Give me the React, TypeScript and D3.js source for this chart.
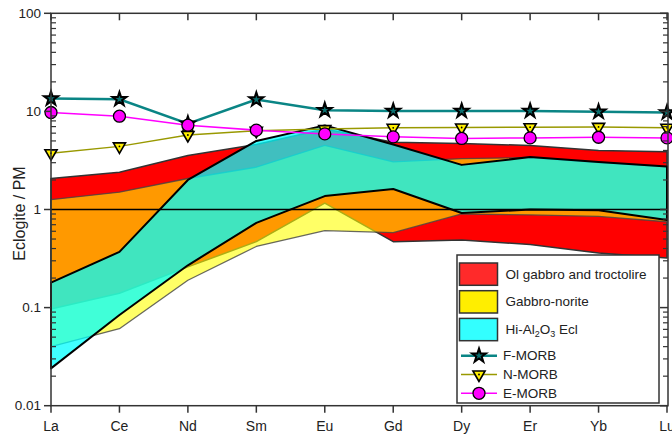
import React from 'react';
import * as d3 from 'd3';

const elements = ['La', 'Ce', 'Nd', 'Sm', 'Eu', 'Gd', 'Dy', 'Er', 'Yb', 'Lu'];

// field envelopes (max / min), normalised to primitive mantle
const olGabbroMax = [2.07, 2.4, 3.55, 4.6, 6.6, 4.85, 4.7, 4.5, 4.0, 3.87];
const olGabbroMin = [0.097, 0.14, 0.26, 0.47, 1.16, 0.47, 0.49, 0.44, 0.36, 0.32];
const gabbroNoriteMax = [1.26, 1.5, 2.07, 2.7, 4.5, 3.06, 3.3, 3.38, 3.0, 2.72];
const gabbroNoriteMin = [0.04, 0.061, 0.19, 0.42, 0.61, 0.58, 0.9, 0.88, 0.85, 0.75];
const eclMax = [0.18, 0.37, 2.0, 5.0, 7.2, 4.6, 2.85, 3.42, 3.05, 2.75];
const eclMin = [0.024, 0.084, 0.27, 0.73, 1.37, 1.62, 0.92, 1.0, 0.98, 0.78];

// reference basalts
const fMorb = [13.5, 13.3, 7.5, 13.2, 10.3, 10.1, 10.1, 10.1, 9.9, 9.75];
const nMorb = [3.75, 4.4, 5.75, 6.35, 6.6, 6.8, 6.85, 6.9, 6.95, 6.8];
const eMorb = [9.74, 8.94, 7.23, 6.44, 5.9, 5.5, 5.3, 5.37, 5.45, 5.37];

const yTickValues = [100, 10, 1, 0.1, 0.01];
const yTickLabels = ['100', '10', '1', '0.1', '0.01'];

const W = 672,
  H = 435;
const left = 51,
  right = 667,
  top = 13.3,
  bottom = 405.7;
const axisColor = '#333';
const font = "'Liberation Sans', Arial, Helvetica, sans-serif";

const x = d3.scalePoint<string>().domain(elements).range([left, right]);
const y = d3.scaleLog().domain([0.01, 100]).range([bottom, top]);

function band(maxV: number[], minV: number[]) {
  return d3
    .area<number>()
    .x((_, i) => x(elements[i]) as number)
    .y0((_, i) => y(minV[i]))
    .y1((d) => y(d))(maxV) as string;
}

function line(vals: number[]) {
  return d3
    .line<number>()
    .x((_, i) => x(elements[i]) as number)
    .y((d) => y(d))(vals) as string;
}

const starPath = d3.symbol(d3.symbolStar, 60)() as string;
const triPath = d3.symbol(d3.symbolTriangle, 64)() as string;
const circPath = d3.symbol(d3.symbolCircle, 113)() as string;

function Star({ cx, cy }: { cx: number; cy: number }) {
  return (
    <path d={starPath} transform={`translate(${cx},${cy})`} fill="#0b7070" stroke="#000" strokeWidth={2} strokeLinejoin="miter" />
  );
}
function Tri({ cx, cy }: { cx: number; cy: number }) {
  return (
    <g transform={`translate(${cx},${cy}) rotate(180)`}>
      <path d={triPath} fill="#ffee00" stroke="#000" strokeWidth={1.6} />
      <circle r={0.9} fill="#000" />
    </g>
  );
}
function Circ({ cx, cy }: { cx: number; cy: number }) {
  return <path d={circPath} transform={`translate(${cx},${cy})`} fill="#ff00ff" stroke="#000" strokeWidth={1.3} />;
}

export default function App() {
  const minorTicks = y.ticks().filter((t) => !yTickValues.some((v) => Math.abs(v - t) < 1e-9));
  const lx = 457,
    ly = 255,
    lw = 202,
    lh = 148;
  const swatches = [
    { fill: '#ff2a2a', label: 'Ol gabbro and troctolire' },
    { fill: '#ffee00', label: 'Gabbro-norite' },
    { fill: '#33ffff', label: 'ecl' },
  ];
  const lineItems = [
    { color: '#0a8585', w: 2.5, label: 'F-MORB', M: Star },
    { color: '#999900', w: 1.5, label: 'N-MORB', M: Tri },
    { color: '#ff00ff', w: 1.5, label: 'E-MORB', M: Circ },
  ];

  return (
    <svg
      width={W}
      height={H}
      viewBox={`0 0 ${W} ${H}`}
      style={{ position: 'absolute', left: 0, top: 0, background: '#fff' }}
      fontFamily={font}
    >
      {/* fields */}
      <path d={band(olGabbroMax, olGabbroMin)} fill="#ff0000" stroke="#333" strokeWidth={1.5} strokeLinejoin="round" />
      <path
        d={band(gabbroNoriteMax, gabbroNoriteMin)}
        fill="#ffff00"
        fillOpacity={0.6}
        stroke="#444"
        strokeOpacity={0.8}
        strokeWidth={1.3}
        strokeLinejoin="round"
      />
      <path
        d={band(eclMax, eclMin)}
        fill="#00ffff"
        fillOpacity={0.75}
        stroke="#000"
        strokeWidth={2}
        strokeLinejoin="round"
      />
      <line x1={left} x2={right} y1={y(1)} y2={y(1)} stroke="#000" strokeWidth={1.6} />

      {/* MORB patterns */}
      <path d={line(fMorb)} fill="none" stroke="#0a8585" strokeWidth={2.5} />
      <path d={line(nMorb)} fill="none" stroke="#999900" strokeWidth={1.5} />
      <path d={line(eMorb)} fill="none" stroke="#ff00ff" strokeWidth={1.5} />
      {elements.map((e, i) => (
        <g key={e}>
          <Star cx={x(e) as number} cy={y(fMorb[i])} />
          <Tri cx={x(e) as number} cy={y(nMorb[i])} />
          <Circ cx={x(e) as number} cy={y(eMorb[i])} />
        </g>
      ))}

      {/* frame */}
      <rect x={left} y={top} width={right + 1 - left} height={bottom - top} fill="none" stroke={axisColor} strokeWidth={1.5} />
      {yTickValues.map((v, i) => (
        <g key={v}>
          <line x1={left - 7} x2={left} y1={y(v)} y2={y(v)} stroke={axisColor} strokeWidth={1.5} />
          <line x1={right + 1} x2={right - 7} y1={y(v)} y2={y(v)} stroke={axisColor} strokeWidth={1.5} />
          <text x={left - 10} y={y(v)} dy="0.35em" textAnchor="end" fontSize={13.5} fill="#222">
            {yTickLabels[i]}
          </text>
        </g>
      ))}
      {minorTicks.map((v) => (
        <g key={v}>
          <line x1={left} x2={left + 5} y1={y(v)} y2={y(v)} stroke={axisColor} strokeWidth={1.2} />
          <line x1={right + 1} x2={right - 4} y1={y(v)} y2={y(v)} stroke={axisColor} strokeWidth={1.2} />
        </g>
      ))}
      {elements.map((e) => (
        <g key={e}>
          <line x1={x(e)} x2={x(e)} y1={bottom} y2={bottom + 7} stroke={axisColor} strokeWidth={1.5} />
          <line x1={x(e)} x2={x(e)} y1={top} y2={top + 7} stroke={axisColor} strokeWidth={1.5} />
          <text x={x(e)} y={bottom + 20} dy="0.35em" textAnchor="middle" fontSize={14} fill="#222">
            {e}
          </text>
        </g>
      ))}
      <text
        transform={`translate(19,${(top + bottom) / 2 + 4}) rotate(-90)`}
        textAnchor="middle"
        dy="0.35em"
        fontSize={16}
        fill="#222"
      >
        Eclogite / PM
      </text>

      {/* legend */}
      <rect x={lx} y={ly} width={lw} height={lh} fill="#fff" stroke={axisColor} strokeWidth={1.5} />
      {swatches.map((s, i) => (
        <g key={i} transform={`translate(${lx + 2.5},${ly + 8 + i * 27.7})`}>
          <rect width={38} height={22.3} fill={s.fill} stroke="#333" strokeWidth={1.5} />
          <text x={46} y={11} dy="0.35em" fontSize={13.5} fill="#222">
            {s.label === 'ecl' ? (
              <>
                Hi-Al<tspan fontSize={9} dy={3}>2</tspan>
                <tspan dy={-3}>O</tspan>
                <tspan fontSize={9} dy={3}>3</tspan>
                <tspan dy={-3}> Ecl</tspan>
              </>
            ) : (
              s.label
            )}
          </text>
        </g>
      ))}
      {lineItems.map((it, i) => {
        const cy = ly + 100.7 + i * 18.8;
        const M = it.M;
        return (
          <g key={it.label}>
            <line x1={lx + 4} x2={lx + 40} y1={cy} y2={cy} stroke={it.color} strokeWidth={it.w} />
            <M cx={lx + 22} cy={cy} />
            <text x={lx + 46} y={cy} dy="0.35em" fontSize={13.5} fill="#222">
              {it.label}
            </text>
          </g>
        );
      })}
    </svg>
  );
}
